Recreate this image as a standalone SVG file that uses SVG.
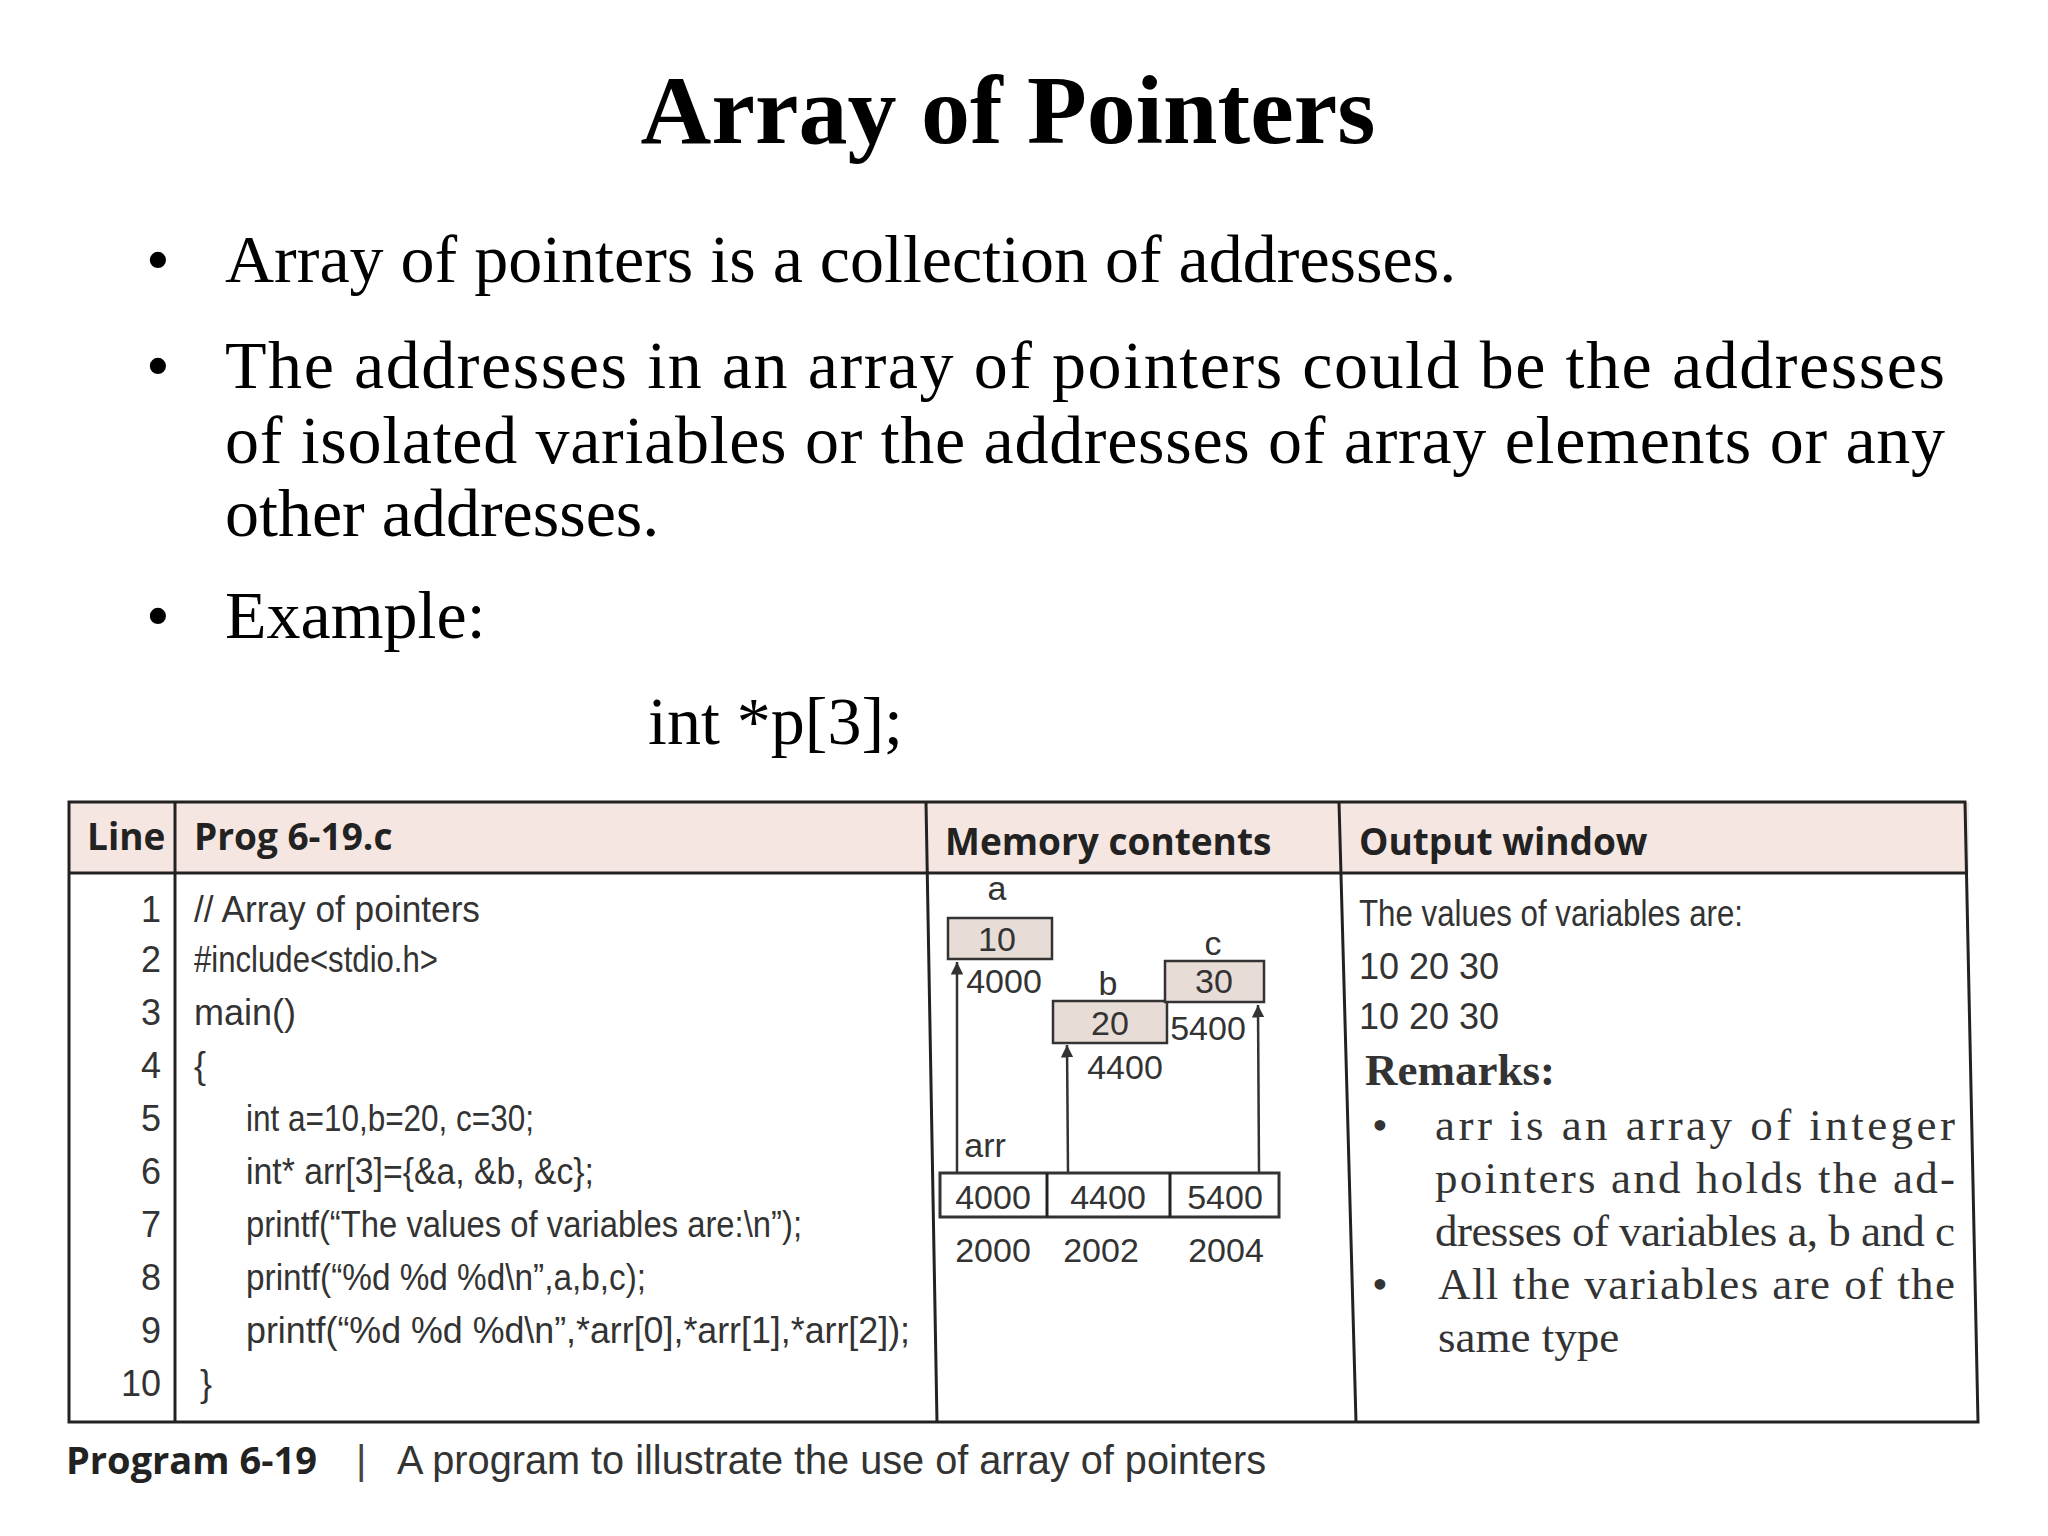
<svg xmlns="http://www.w3.org/2000/svg" width="2048" height="1536" viewBox="0 0 2048 1536">
<style>
.ser{font-family:"Liberation Serif",serif;fill:#000}
.b{font-size:68px}
.hd{font-family:"Open Sans","Liberation Sans",sans-serif;font-weight:bold;font-size:37px;fill:#222}
.cd{font-family:"Liberation Sans",sans-serif;font-size:36px;fill:#333}
.m{font-family:"Liberation Sans",sans-serif;font-size:34px;fill:#333;text-anchor:middle}
.rm{font-family:"Liberation Serif",serif;font-size:45px;fill:#333}
.ln{stroke:#222;stroke-width:3;fill:none}
.bx{stroke:#333;stroke-width:2.5;fill:#e8dcd6}
.ar{stroke:#333;stroke-width:2.5;fill:none;marker-end:url(#ah)}
</style>
<defs><marker id="ah" viewBox="0 0 10 10" refX="10" refY="5" markerWidth="5" markerHeight="5" orient="auto"><path d="M0,0 L10,5 L0,10 z" fill="#333"/></marker></defs>
<rect width="2048" height="1536" fill="#fff"/>
<text class="ser" x="1008" y="143" font-size="98" font-weight="bold" text-anchor="middle">Array of Pointers</text>
<g class="ser b">
<text x="146" y="282">•</text><text x="225" y="282">Array of pointers is a collection of addresses.</text>
<text x="146" y="388">•</text><text x="225" y="388" textLength="1720">The addresses in an array of pointers could be the addresses</text>
<text x="225" y="463" textLength="1720">of isolated variables or the addresses of array elements or any</text>
<text x="225" y="536">other addresses.</text>
<text x="146" y="638">•</text><text x="225" y="638">Example:</text>
<text x="648" y="744">int *p[3];</text>
</g>
<g id="table">
<rect x="69" y="802" width="1900" height="71" fill="#f5e6e1"/>
<path class="ln" d="M69,802 H1965 L1978,1422 H69 Z M69,873 H1968 M175,802 V1422 M926,802 L937,1422 M1339,802 L1356,1422"/>
<text class="hd" x="87" y="850">Line</text>
<text class="hd" x="194" y="850">Prog 6-19.c</text>
<text class="hd" x="945" y="855">Memory contents</text>
<text class="hd" x="1359" y="855">Output window</text>
</g>
<g id="code">
<g class="cd" text-anchor="end">
<text x="161" y="922">1</text><text x="161" y="972">2</text><text x="161" y="1025">3</text><text x="161" y="1078">4</text><text x="161" y="1131">5</text><text x="161" y="1184">6</text><text x="161" y="1237">7</text><text x="161" y="1290">8</text><text x="161" y="1343">9</text><text x="161" y="1396">10</text>
</g>
<g class="cd">
<text x="194" y="922" textLength="286" lengthAdjust="spacingAndGlyphs">// Array of pointers</text>
<text x="194" y="972" textLength="244" lengthAdjust="spacingAndGlyphs">#include&lt;stdio.h&gt;</text>
<text x="194" y="1025">main()</text>
<text x="194" y="1078">{</text>
<text x="246" y="1131" textLength="288" lengthAdjust="spacingAndGlyphs">int a=10,b=20, c=30;</text>
<text x="246" y="1184" textLength="348" lengthAdjust="spacingAndGlyphs">int* arr[3]={&amp;a, &amp;b, &amp;c};</text>
<text x="246" y="1237" textLength="556" lengthAdjust="spacingAndGlyphs">printf(“The values of variables are:\n”);</text>
<text x="246" y="1290" textLength="400" lengthAdjust="spacingAndGlyphs">printf(“%d %d %d\n”,a,b,c);</text>
<text x="246" y="1343" textLength="664" lengthAdjust="spacingAndGlyphs">printf(“%d %d %d\n”,*arr[0],*arr[1],*arr[2]);</text>
<text x="200" y="1396">}</text>
</g>
</g>
<g id="memory">
<rect class="bx" x="948" y="918" width="104" height="41"/>
<rect class="bx" x="1053" y="1001" width="114" height="42"/>
<rect class="bx" x="1165" y="961" width="99" height="41"/>
<text class="m" x="997" y="900">a</text><text class="m" x="997" y="951">10</text><text class="m" x="1004" y="993">4000</text>
<text class="m" x="1108" y="995">b</text><text class="m" x="1110" y="1035">20</text><text class="m" x="1125" y="1079">4400</text>
<text class="m" x="1213" y="955">c</text><text class="m" x="1214" y="993">30</text><text class="m" x="1208" y="1040">5400</text>
<text class="m" x="985" y="1157">arr</text>
<rect x="940" y="1173" width="339" height="44" fill="#fff" stroke="#333" stroke-width="3"/>
<path class="ln" d="M1047,1173 V1217 M1170,1173 V1217"/>
<text class="m" x="993" y="1209">4000</text><text class="m" x="1108" y="1209">4400</text><text class="m" x="1225" y="1209">5400</text>
<text class="m" x="993" y="1262">2000</text><text class="m" x="1101" y="1262">2002</text><text class="m" x="1226" y="1262">2004</text>
</g>
<g id="connectors">
<line class="ar" x1="957" y1="1172" x2="957" y2="962"/>
<line class="ar" x1="1068" y1="1172" x2="1067" y2="1045"/>
<line class="ar" x1="1259" y1="1172" x2="1258" y2="1005"/>
</g>
<g id="output">
<text class="cd" x="1359" y="926" textLength="384" lengthAdjust="spacingAndGlyphs">The values of variables are:</text>
<text class="cd" x="1359" y="979">10 20 30</text>
<text class="cd" x="1359" y="1029">10 20 30</text>
<text class="rm" x="1365" y="1085" font-weight="bold" fill="#222">Remarks:</text>
<text class="rm" x="1372" y="1140">•</text><text class="rm" x="1435" y="1140" textLength="520">arr is an array of integer</text>
<text class="rm" x="1435" y="1193" textLength="520">pointers and holds the ad-</text>
<text class="rm" x="1435" y="1246" textLength="520">dresses of variables a, b and c</text>
<text class="rm" x="1372" y="1299">•</text><text class="rm" x="1438" y="1299" textLength="517">All the variables are of the</text>
<text class="rm" x="1438" y="1352">same type</text>
</g>
<text x="66" y="1474" font-family="Open Sans,Liberation Sans,sans-serif" font-weight="bold" font-size="38" fill="#222">Program 6-19</text>
<text x="356" y="1474" font-family="Liberation Sans,sans-serif" font-size="40" fill="#444">|</text>
<text x="397" y="1474" font-family="Liberation Sans,sans-serif" font-size="40" fill="#333" textLength="869" lengthAdjust="spacingAndGlyphs">A program to illustrate the use of array of pointers</text>
</svg>
